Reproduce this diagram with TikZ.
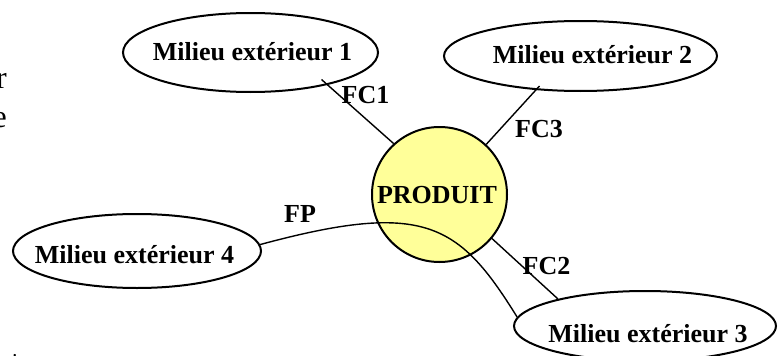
\documentclass[tikz,border=0pt]{standalone}
\usepackage{fontspec}
\setmainfont{Liberation Serif}
\usetikzlibrary{shapes.geometric,calc}
\definecolor{prodfill}{HTML}{FFFF99}
\tikzset{
  milieu/.style={draw=black, line width=2pt, ellipse, inner sep=0pt, fill=white},
  produit/.style={draw=black, line width=2pt, circle, inner sep=0pt, fill=prodfill, minimum size=135pt},
  lbl/.style={font=\fontsize{26}{30}\selectfont\bfseries, inner sep=0pt, anchor=base},
  frag/.style={font=\fontsize{32}{36}\selectfont, inner sep=0pt, anchor=base east},
  conn/.style={draw=black, line width=1.4pt},
}
\begin{document}
\begin{tikzpicture}[x=1pt,y=-1pt]
\useasboundingbox (0,0) rectangle (780,356);
\clip (0,0) rectangle (780,356);
% cropped fragments at left edge
\node[frag] (fr) at (7,88) {r};
\node[frag] (fe) at (7,127) {e};
\node[font=\fontsize{20}{24}\selectfont, inner sep=0pt, anchor=base] (dot) at (15,356) {.};
% shapes
\node[milieu, minimum width=255pt, minimum height=79pt] (e1) at (250.5,52.5) {};
\node[milieu, minimum width=273pt, minimum height=70pt] (e2) at (580.5,56) {};
\node[milieu, minimum width=248pt, minimum height=74pt] (e4) at (137,251) {};
\node[milieu, minimum width=262pt, minimum height=70pt] (e3) at (645,326) {};
\node[produit] (p) at (439.5,194.5) {};
% texts
\node[lbl] (t1) at (252.5,60) {Milieu extérieur 1};
\node[lbl] (t2) at (592.5,63) {Milieu extérieur 2};
\node[lbl] (t4) at (134.5,263) {Milieu extérieur 4};
\node[lbl] (t3) at (648,342) {Milieu extérieur 3};
\node[lbl] (tp) at (437,203) {PRODUIT};
% connectors
\draw[conn] ($(e1)+(71,27)$) -- (p.132);
\draw[conn] ($(e2)+(-41,30)$) -- (p.47);
\draw[conn] (p.-40) -- ($(e3)+(-87,-27)$);
\draw[conn] (e4.3) .. controls (425,200) and (459,223.5) .. (e3.176);
% connector labels
\node[lbl] (fc1) at (365.5,103) {FC1};
\node[lbl] (fc3) at (539,137) {FC3};
\node[lbl] (fc2) at (546.5,274) {FC2};
\node[lbl] (fp) at (300,222) {FP};
\end{tikzpicture}
\end{document}
